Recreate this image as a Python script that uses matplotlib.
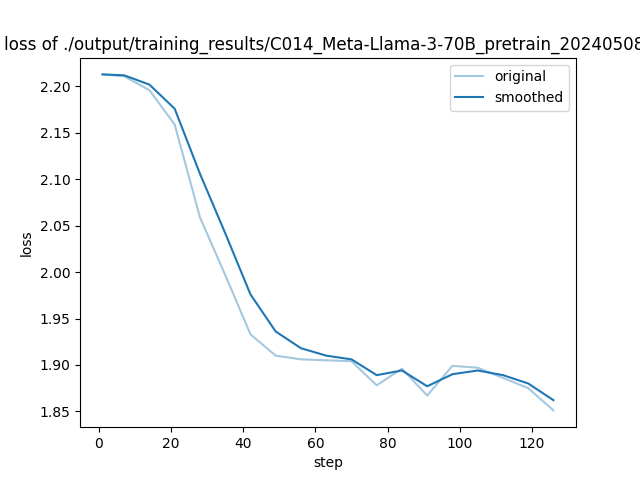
import matplotlib
matplotlib.use("Agg")
import matplotlib.pyplot as plt

steps = [1, 7, 14, 21, 28, 35, 42, 49, 56, 63, 70, 77, 84, 91, 98, 105, 112, 119, 126]
original = [2.213, 2.211, 2.196, 2.159, 2.059, 1.997, 1.933, 1.910, 1.906, 1.905, 1.904,
            1.878, 1.896, 1.867, 1.899, 1.897, 1.886, 1.875, 1.851]
smoothed = [2.213, 2.212, 2.202, 2.176, 2.106, 2.042, 1.976, 1.936, 1.918, 1.910, 1.906,
            1.889, 1.894, 1.877, 1.890, 1.894, 1.889, 1.880, 1.862]
# the end of the run name is cut off at the figure edge in the reference
title = "loss of ./output/training_results/C014_Meta-Llama-3-70B_pretrain_20240508_"

plt.figure(figsize=(6.4, 4.8), dpi=100)
plt.plot(steps, original, color="#1f77b4", alpha=0.4, label="original")
plt.plot(steps, smoothed, color="#1f77b4", label="smoothed")
plt.title(title, fontsize=12.1)
plt.xlabel("step")
plt.ylabel("loss")
plt.legend()
plt.savefig("out.png", dpi=100)
